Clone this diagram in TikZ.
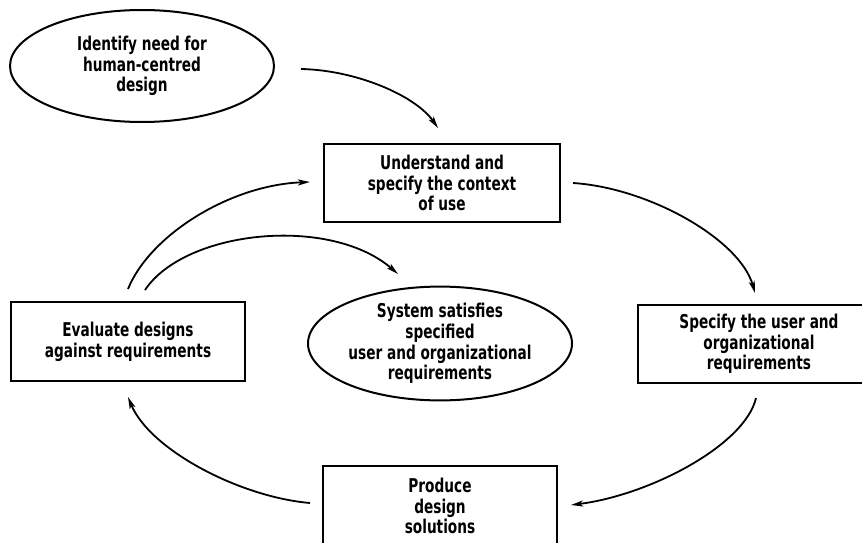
\documentclass[tikz,border=0pt]{standalone}
\usepackage{fontspec}
\newfontfamily\diagfont[FakeStretch=0.8]{DejaVu Sans Condensed Bold}
\usetikzlibrary{shapes.geometric,arrows.meta}
\begin{document}
\begin{tikzpicture}[x=1pt,y=-1pt,
  txt/.style={font=\diagfont\fontsize{19}{20.7}\selectfont, align=center, inner sep=0pt},
  boxnode/.style={txt, draw, line width=2pt, rectangle},
  ellnode/.style={txt, draw, line width=2pt, ellipse},
  arr/.style={line width=1.8pt, -{Stealth[length=12pt,width=6pt,inset=3pt]}}]
\useasboundingbox (0,0) rectangle (862,543);
\clip (0,0) rectangle (862,543);
\node[ellnode, minimum width=264pt, minimum height=112pt] (ident) at (142,66) {Identify need for\\human-centred\\design};
\node[boxnode, minimum width=236pt, minimum height=78pt] (underst) at (442,183) {Understand and\\specify the context\\of use};
\node[boxnode, minimum width=242pt, minimum height=78pt] (specify) at (759,344) {Specify the user and\\organizational\\requirements};
\node[boxnode, minimum width=234pt, minimum height=80pt] (produce) at (440,506) {Produce\\design\\solutions};
\node[boxnode, minimum width=234pt, minimum height=79pt] (evaluate) at (128,341.5) {Evaluate designs\\against requirements};
\node[ellnode, minimum width=264pt, minimum height=113pt] (system) at (440,343.5) {System satisfies\\specified\\user and organizational\\requirements};
% connector end points (gaps next to the nodes)
\coordinate (a1s) at (301,69);   \coordinate (a1e) at (438,128);
\coordinate (a2s) at (573,183);  \coordinate (a2e) at (755,293);
\coordinate (a3s) at (756,398);  \coordinate (a3e) at (571,505);
\coordinate (a4s) at (310,503);  \coordinate (a4e) at (128,397);
\coordinate (a5s) at (128,289);  \coordinate (a5e) at (310,182);
\coordinate (a6s) at (145,290);  \coordinate (a6e) at (398,274);
\draw[arr] (a1s) .. controls (355,70) and (415,95) .. (a1e);
\draw[arr] (a2s) .. controls (650,188) and (740,240) .. (a2e);
\draw[arr] (a3s) .. controls (745,445) and (650,495) .. (a3e);
\draw[arr] (a4s) .. controls (240,497) and (150,450) .. (a4e);
\draw[arr] (a5s) .. controls (150,235) and (230,185) .. (a5e);
\draw[arr] (a6s) .. controls (185,230) and (330,215) .. (a6e);
\end{tikzpicture}
\end{document}
